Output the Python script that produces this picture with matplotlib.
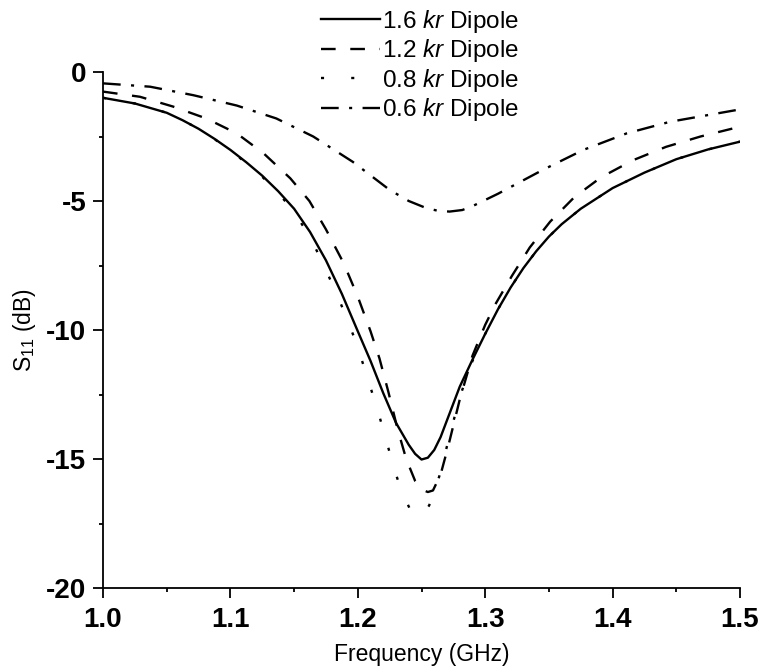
import matplotlib
matplotlib.use("Agg")
import matplotlib.pyplot as plt
from matplotlib.ticker import MultipleLocator, FormatStrFormatter

plt.rcParams['font.family'] = ['Liberation Sans', 'DejaVu Sans']
plt.rcParams['mathtext.fontset'] = 'custom'
plt.rcParams['mathtext.rm'] = 'Liberation Sans'
plt.rcParams['mathtext.it'] = 'Liberation Sans:italic'

# S11 curves for each dipole size (frequency in GHz, S11 in dB)
f_16 = [1.0, 1.025, 1.05, 1.0625, 1.075, 1.0875, 1.1, 1.1125, 1.125, 1.1375, 1.15, 1.1625,
        1.175, 1.1875, 1.2, 1.21, 1.22, 1.23, 1.24, 1.245, 1.25, 1.255, 1.26, 1.265, 1.27,
        1.28, 1.29, 1.3, 1.31, 1.32, 1.33, 1.34, 1.35, 1.36, 1.375, 1.4, 1.425, 1.45, 1.475, 1.5]
s_16 = [-1.00, -1.22, -1.58, -1.87, -2.2, -2.59, -3.02, -3.5, -4.02, -4.62, -5.3, -6.2,
        -7.3, -8.6, -10.05, -11.2, -12.45, -13.6, -14.45, -14.8, -15.02, -14.95, -14.65, -14.15, -13.5,
        -12.2, -11.15, -10.15, -9.2, -8.35, -7.6, -6.95, -6.38, -5.9, -5.3, -4.5, -3.9, -3.38, -3.0, -2.7]

f_12 = [1.0, 1.029, 1.055, 1.081, 1.105, 1.126, 1.147, 1.162, 1.175, 1.189, 1.2, 1.21,
        1.217, 1.224, 1.231, 1.238, 1.245, 1.251, 1.255, 1.259, 1.265, 1.271, 1.28, 1.29,
        1.3, 1.308, 1.321, 1.335, 1.351, 1.37, 1.391, 1.416, 1.442, 1.469, 1.5]
s_12 = [-0.76, -0.96, -1.34, -1.8, -2.38, -3.15, -4.12, -5.0, -6.1, -7.42, -8.71, -10.05,
        -11.1, -12.4, -13.8, -15.0, -15.85, -16.2, -16.28, -16.22, -15.6, -14.5, -12.7, -11.0,
        -9.8, -9.0, -7.9, -6.8, -5.8, -4.85, -4.08, -3.42, -2.9, -2.5, -2.12]

f_08 = [1.0, 1.025, 1.05, 1.0625, 1.075, 1.0875, 1.1, 1.1125, 1.125, 1.1375, 1.15, 1.1625,
        1.173, 1.186, 1.198, 1.207, 1.212, 1.217, 1.221, 1.225, 1.229, 1.234, 1.241, 1.247,
        1.252, 1.256, 1.26, 1.265, 1.27, 1.28, 1.29, 1.3, 1.31, 1.32, 1.33, 1.34, 1.35, 1.36,
        1.375, 1.4, 1.425, 1.45, 1.475, 1.5]
s_08 = [-1.00, -1.22, -1.58, -1.87, -2.2, -2.6, -3.04, -3.53, -4.06, -4.68, -5.42, -6.4,
        -7.45, -8.9, -10.39, -11.75, -12.55, -13.35, -14.05, -14.75, -15.45, -16.2, -16.95, -17.22,
        -17.1, -16.8, -16.3, -15.5, -14.5, -12.6, -11.2, -10.15, -9.2, -8.35, -7.6, -6.95, -6.38, -5.9,
        -5.3, -4.5, -3.9, -3.38, -3.0, -2.7]

f_06 = [1.0, 1.037, 1.071, 1.105, 1.136, 1.165, 1.196, 1.225, 1.24, 1.254, 1.263, 1.272,
        1.282, 1.29, 1.31, 1.345, 1.377, 1.411, 1.445, 1.5]
s_06 = [-0.44, -0.57, -0.9, -1.3, -1.8, -2.5, -3.48, -4.57, -5.0, -5.28, -5.38, -5.41,
        -5.35, -5.2, -4.72, -3.8, -3.02, -2.38, -1.93, -1.45]

labels = ['1.6 $\\it{kr}$ Dipole', '1.2 $\\it{kr}$ Dipole',
          '0.8 $\\it{kr}$ Dipole', '0.6 $\\it{kr}$ Dipole']

fig = plt.figure(figsize=(7.62, 6.72), dpi=100)
ax = fig.add_axes([103 / 762, 1 - 588 / 672, 637 / 762, 516 / 672])

lw = 1.7
ax.plot(f_16, s_16, color='black', lw=lw, label=labels[0])
ax.plot(f_12, s_12, color='black', lw=lw, linestyle=(0, (6.2, 6.2)), label=labels[1])
ax.plot(f_08, s_08, color='black', lw=lw, linestyle=(0, (1.3, 11.5)), label=labels[2])
ax.plot(f_06, s_06, color='black', lw=lw, linestyle=(0, (7.5, 4.4, 1.3, 4.4)), label=labels[3])

ax.set_xlim(1.0, 1.5)
ax.set_ylim(-20, 0)
ax.xaxis.set_major_locator(MultipleLocator(0.1))
ax.xaxis.set_minor_locator(MultipleLocator(0.05))
ax.yaxis.set_major_locator(MultipleLocator(5))
ax.yaxis.set_minor_locator(MultipleLocator(2.5))
ax.xaxis.set_major_formatter(FormatStrFormatter('%.1f'))
ax.yaxis.set_major_formatter(FormatStrFormatter('%d'))

for side in ['top', 'right']:
    ax.spines[side].set_visible(False)
for side in ['left', 'bottom']:
    ax.spines[side].set_linewidth(1.3)

ax.tick_params(which='major', direction='out', length=7, width=1.3, labelsize=20, pad=5)
ax.tick_params(axis='x', which='major', pad=7)
ax.tick_params(which='minor', direction='out', length=3, width=1.3)
for lab in ax.get_xticklabels() + ax.get_yticklabels():
    lab.set_fontweight('bold')

ax.set_xlabel('Frequency (GHz)', fontsize=16.5, labelpad=7)
ax.set_ylabel('S$_{11}$ (dB)', fontsize=16.5, labelpad=6)

ax.legend(loc='upper left', bbox_to_anchor=(321 / 762, 1 - 8 / 672),
          bbox_transform=fig.transFigure, frameon=False, fontsize=17.5,
          handlelength=2.43, handletextpad=0.1, labelspacing=0.1,
          borderpad=0, borderaxespad=0)

fig.savefig('out.png', dpi=100)
